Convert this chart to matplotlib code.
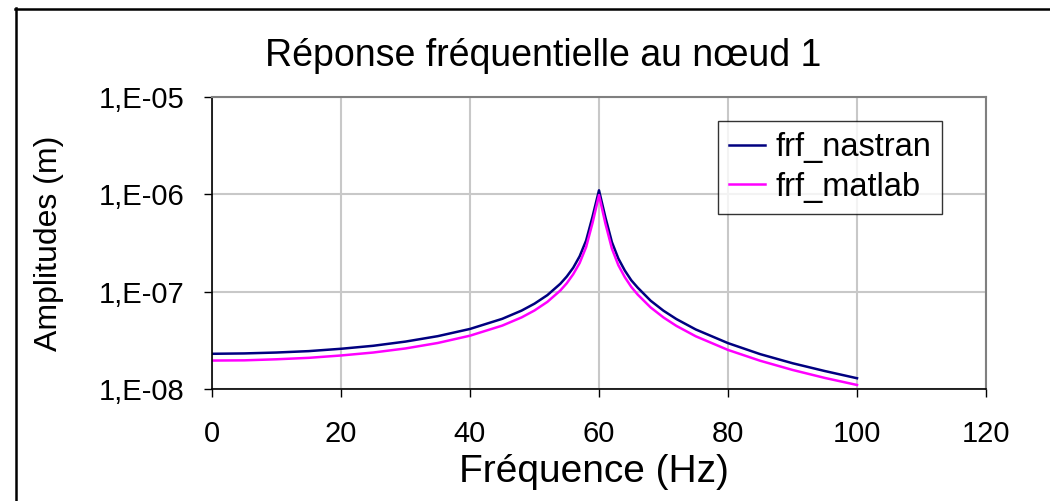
import matplotlib
matplotlib.use('Agg')
import matplotlib.pyplot as plt
from matplotlib.lines import Line2D

plt.rcParams['font.family'] = ['Liberation Sans', 'DejaVu Sans']

# frequencies (Hz) and amplitudes (m)
freq = [0, 5, 10, 15, 20, 25, 30, 35, 40, 45, 48, 50, 52, 54, 55, 56, 57, 58, 59,
        60, 61, 62, 63, 64, 65, 66, 68, 70, 72, 75, 80, 85, 90, 95, 100]
frf_nastran = [2.30e-8, 2.32e-8, 2.37e-8, 2.45e-8, 2.59e-8, 2.78e-8, 3.07e-8, 3.49e-8,
               4.14e-8, 5.26e-8, 6.39e-8, 7.53e-8, 9.22e-8, 1.205e-7, 1.43e-7, 1.76e-7,
               2.31e-7, 3.35e-7, 5.91e-7, 1.10e-6, 5.78e-7, 3.23e-7, 2.19e-7, 1.65e-7,
               1.31e-7, 1.10e-7, 8.08e-8, 6.37e-8, 5.23e-8, 4.09e-8, 2.96e-8, 2.28e-8,
               1.84e-8, 1.53e-8, 1.29e-8]
frf_matlab = [1.96e-8, 1.97e-8, 2.02e-8, 2.09e-8, 2.21e-8, 2.37e-8, 2.61e-8, 2.97e-8,
              3.53e-8, 4.48e-8, 5.44e-8, 6.41e-8, 7.86e-8, 1.027e-7, 1.22e-7, 1.51e-7,
              1.97e-7, 2.87e-7, 5.09e-7, 9.80e-7, 4.99e-7, 2.77e-7, 1.87e-7, 1.41e-7,
              1.12e-7, 9.33e-8, 6.89e-8, 5.43e-8, 4.45e-8, 3.48e-8, 2.52e-8, 1.95e-8,
              1.57e-8, 1.30e-8, 1.10e-8]

xticks = [0, 20, 40, 60, 80, 100, 120]
yticks = [1e-8, 1e-7, 1e-6, 1e-5]
ytick_labels = ['1,E-08', '1,E-07', '1,E-06', '1,E-05']

W, H = 1050, 501
fig = plt.figure(figsize=(W/100, H/100), dpi=100)
ax = fig.add_axes([212/W, 1 - 389/H, (986 - 212)/W, (389 - 97)/H])

ax.plot(freq, frf_nastran, color='#000080', linewidth=1.8, label='frf_nastran')
ax.plot(freq, frf_matlab, color='#ff00ff', linewidth=1.8, label='frf_matlab')

ax.set_yscale('log')
ax.set_xlim(0, 120)
ax.set_ylim(1e-8, 1e-5)
ax.set_xticks(xticks)
ax.set_yticks(yticks)
ax.set_yticklabels(ytick_labels)
ax.minorticks_off()
ax.tick_params(axis='both', direction='out', length=6, width=1, labelsize=21)
ax.tick_params(axis='y', pad=14)
ax.tick_params(axis='x', pad=16)
ax.grid(True, color='#c8c8c8', linewidth=1.5)
ax.set_axisbelow(True)

for side in ['top', 'right']:
  ax.spines[side].set_color('#808080')
  ax.spines[side].set_linewidth(1.5)
for side in ['left', 'bottom']:
  ax.spines[side].set_color('black')
  ax.spines[side].set_linewidth(1.2)

fig.text(594/W, 1 - 472/H, 'Fréquence (Hz)', fontsize=28, ha='center', va='center')
fig.text(49/W, 1 - 243/H, 'Amplitudes (m)', fontsize=23, ha='center', va='center',
         rotation=90)
fig.text(543/W, 1 - 56/H, 'Réponse fréquentielle au nœud 1', fontsize=27,
         ha='center', va='center')

leg = ax.legend(loc='upper left', bbox_to_anchor=((718 - 212)/774, 1 - (121 - 97)/292),
                fontsize=23.5, frameon=True, fancybox=False, borderpad=0.35,
                handlelength=1.1, handletextpad=0.3, labelspacing=0.25, borderaxespad=0)
leg.get_frame().set_edgecolor('black')
leg.get_frame().set_linewidth(1.0)

# outer chart border (left and top edges visible)
fig.add_artist(Line2D([15.5/W, 15.5/W], [0, 1 - 8/H], color='black', linewidth=1.8))
fig.add_artist(Line2D([15/W, 1], [1 - 8.5/H, 1 - 8.5/H], color='black', linewidth=1.8))

fig.savefig('out.png', dpi=100)
